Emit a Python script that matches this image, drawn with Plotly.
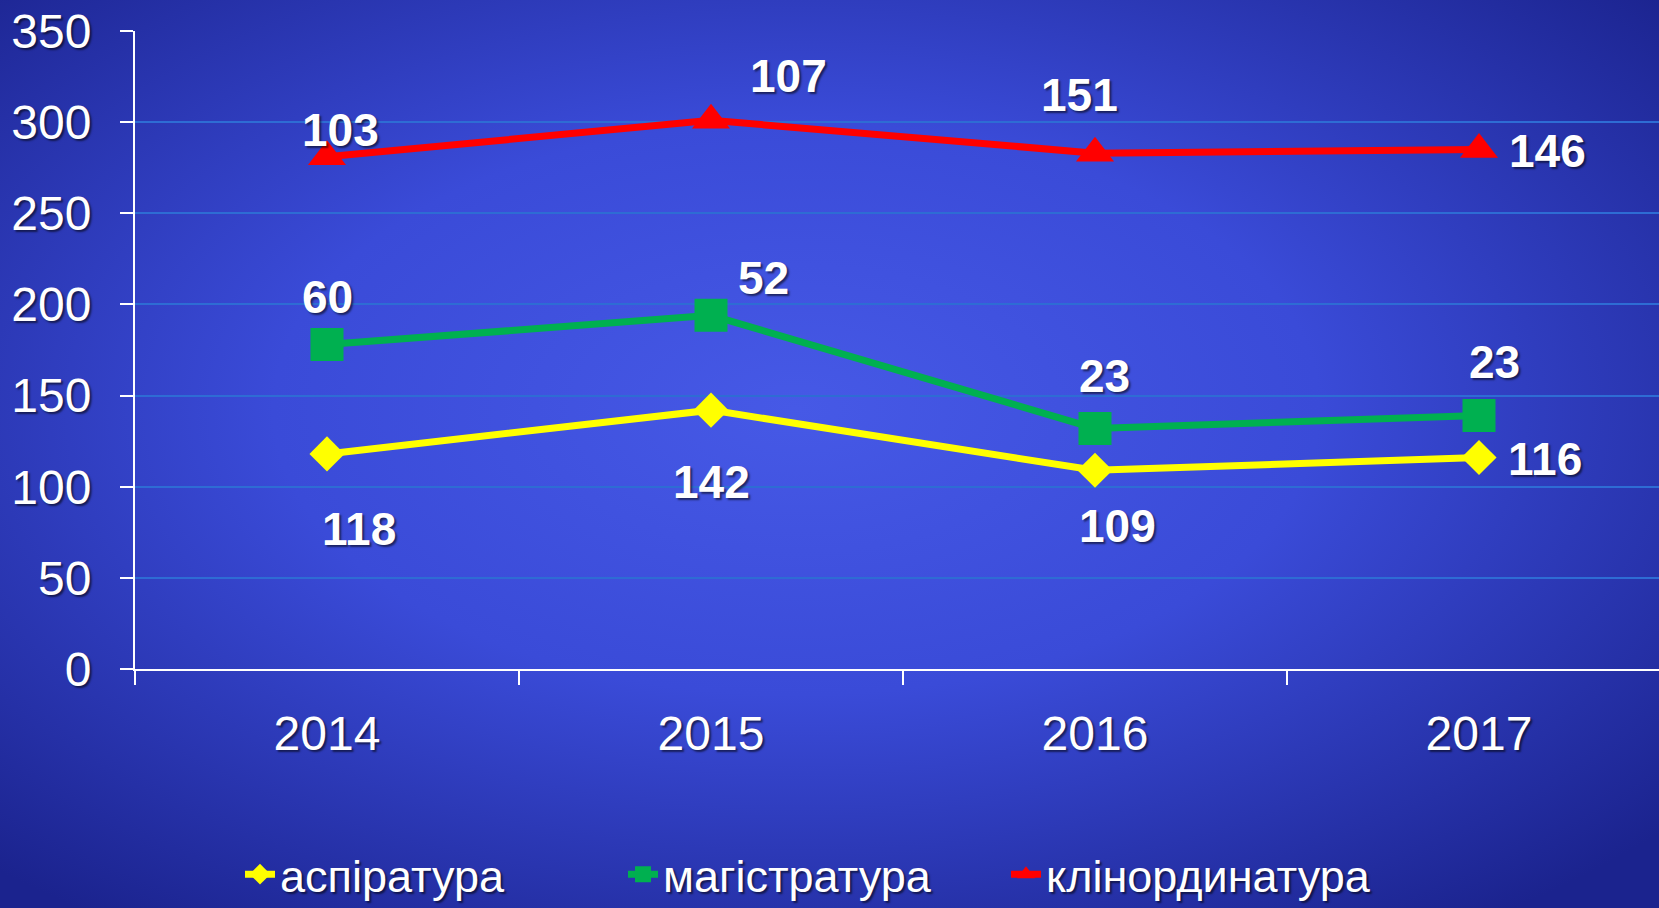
import base64
import numpy as np
import plotly.graph_objects as go

years = ["2014", "2015", "2016", "2017"]
aspirantura = [118, 142, 109, 116]
magistratura = [60, 52, 23, 23]
klinordinatura = [103, 107, 151, 146]
series_names = ["аспіратура", "магістратура", "клінординатура"]
y_ticks = [0, 50, 100, 150, 200, 250, 300, 350]

# label offsets in pixels (xshift, yshift) relative to each point
label_offsets = [
    [(32, -75), (0, -72), (22, -56), (66, -1)],
    [(0, 48), (52, 37), (9, 52), (15, 54)],
    [(13, 27), (77, 44), (-16, 58), (68, -2)],
]

W, H = 1659, 908
L, T, R, B = 135, 31, 0, 239
pw, ph = W - L - R, H - T - B

FONT = "Arial, Liberation Sans, sans-serif"
SHADOW = "2px 2px 2px rgba(0,0,0,0.55)"

svg = f"""<svg xmlns='http://www.w3.org/2000/svg' width='{W}' height='{H}' viewBox='0 0 {W} {H}' preserveAspectRatio='none'>
<defs><radialGradient id='g' cx='0.48' cy='0.45' r='0.7' gradientUnits='objectBoundingBox'>
<stop offset='0' stop-color='#4659e6'/>
<stop offset='0.45' stop-color='#3a4bd8'/>
<stop offset='1' stop-color='#1b238e'/>
</radialGradient></defs>
<rect x='0' y='0' width='{W}' height='{H}' fill='url(#g)'/></svg>"""
bg_uri = "data:image/svg+xml;base64," + base64.b64encode(svg.encode()).decode()

series = [aspirantura, magistratura, klinordinatura]
cum = np.cumsum(np.array(series), axis=0)
colors = ["#ffff00", "#00b050", "#ff0000"]
symbols = ["diamond", "square", "triangle-up"]
sizes = [27, 33, 33]

fig = go.Figure()
for i, (name, vals) in enumerate(zip(series_names, series)):
    fig.add_trace(go.Scatter(
        x=years, y=vals, name=name, stackgroup="s", fill="none",
        mode="lines+markers",
        line=dict(color=colors[i], width=7),
        marker=dict(symbol=symbols[i], size=sizes[i], color=colors[i]),
        hoverinfo="skip",
    ))

for i, vals in enumerate(series):
    for j, v in enumerate(vals):
        dx, dy = label_offsets[i][j]
        fig.add_annotation(
            x=j, y=float(cum[i][j]), xref="x", yref="y",
            text=f"<b>{v}</b>", showarrow=False,
            xshift=dx, yshift=dy,
            font=dict(family=FONT, size=46, color="white", shadow=SHADOW),
        )

fig.update_layout(
    width=W, height=H,
    margin=dict(l=L, r=R, t=T, b=B, pad=0, autoexpand=False),
    paper_bgcolor="#2a35b0",
    plot_bgcolor="rgba(0,0,0,0)",
    font=dict(family=FONT, color="white"),
    images=[dict(source=bg_uri, xref="paper", yref="paper",
                 x=-L / pw, y=1 + T / ph, sizex=W / pw, sizey=H / ph,
                 xanchor="left", yanchor="top", sizing="stretch", layer="below")],
    showlegend=True,
    legend=dict(orientation="h", x=(240 - L) / pw, xanchor="left", y=-0.322, yanchor="middle",
                font=dict(family=FONT, size=45, color="white", shadow=SHADOW),
                bgcolor="rgba(0,0,0,0)", itemwidth=30, traceorder="normal",
                entrywidth=338, entrywidthmode="pixels"),
    xaxis=dict(
        type="category", range=[-0.5, -0.5 + pw / 384],
        showline=True, linecolor="white", linewidth=2,
        ticks="outside", tickson="boundaries", ticklen=14, tickwidth=2, tickcolor="white",
        tickfont=dict(family=FONT, size=48, color="white", shadow=SHADOW),
        ticklabelstandoff=21,
        showgrid=False, zeroline=False, fixedrange=True,
    ),
    yaxis=dict(
        range=[0, 350], tickvals=y_ticks,
        showline=True, linecolor="white", linewidth=2,
        ticks="outside", ticklen=13, tickwidth=2, tickcolor="white",
        tickfont=dict(family=FONT, size=48, color="white", shadow=SHADOW),
        ticklabelstandoff=19,
        showgrid=True, gridcolor="#2e6cd4", gridwidth=2,
        zeroline=False, fixedrange=True,
    ),
)

fig.write_html("out.html", config={"displayModeBar": False},
               post_script="document.body.style.margin='0';document.body.style.overflow='hidden';")
